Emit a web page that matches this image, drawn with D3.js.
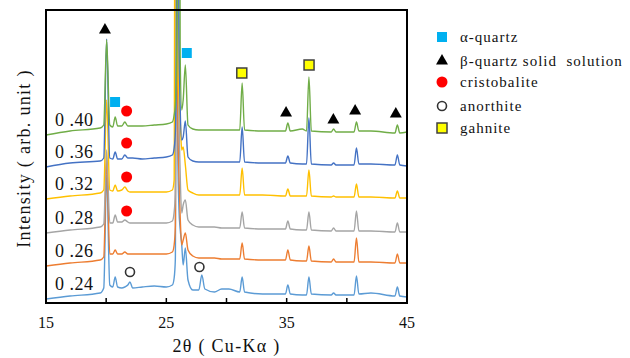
<!DOCTYPE html>
<html>
<head>
<meta charset="utf-8">
<script src="https://cdn.jsdelivr.net/npm/d3@7"></script>
<style>
  body { margin: 0; background: #fff; }
</style>
</head>
<body>
<div id="xrdChart"></div>
<script>
// 2-theta grid (degrees) shared by all patterns
const twoTheta = [15, 17, 19.5, 19.8, 20.04, 20.3, 20.55, 20.75, 20.95, 21.3, 21.55, 21.8, 21.98, 22.2,
  23, 24, 25, 25.5, 25.65, 25.75, 25.85, 25.95, 26.05, 26.15, 26.28, 26.4, 26.58, 26.8, 27.2, 27.7, 27.95, 28.2,
  29, 29.6, 30.2, 31.1, 31.3, 31.5, 33, 34.9, 35.1, 35.3, 36.3, 36.65, 36.85, 37.05, 38.7, 38.9, 39.1,
  40.6, 40.8, 41.0, 42, 44.0, 44.2, 44.4, 45];

// intensities (arb. unit), one array per composition
const int024 = [0, 3, 6, 11, 124, 14, 12, 22, 12, 11, 12, 14, 17, 11, 12, 13, 12, 14, 21, 40, 600, 150, 90, 70,
  54, 34, 51, 19, 9, 9, 24, 10, 7, 10, 10, 7, 22, 7, 5, 5, 14, 5, 4, 4, 22, 5, 4, 6, 4, 4, 23, 5, 6, 3, 12, 3, 2];
const int026 = [0, 3, 6, 9, 106, 12, 12, 16, 12, 12, 14, 12, 12, 12, 12, 12, 12, 14, 21, 40, 600, 150, 90, 50,
  21, 26, 33, 16, 10, 8, 8, 8, 8, 7, 7, 7, 23, 7, 6, 6, 16, 6, 5, 5, 20, 5, 4, 7, 4, 4, 28, 4, 4, 3, 12, 3, 3];
const int028 = [0, 3, 6, 9, 83, 10, 10, 18, 11, 11, 13, 11, 10, 10, 10, 10, 10, 12, 21, 40, 600, 350, 130, 60,
  20, 28, 33, 13, 8, 6, 6, 6, 6, 5, 5, 5, 21, 5, 4, 4, 12, 4, 3, 3, 21, 3, 2, 5, 2, 2, 22, 2, 2, 1, 10, 1, 1];
const int032 = [0, 3, 6, 9, 99, 9, 8, 14, 8, 9, 12, 8, 7, 7, 7, 7, 7, 9, 19, 600, 250, 140, 100, 80,
  49, 52, 34, 9, 6, 4, 4, 4, 4, 4, 4, 4, 31, 4, 4, 3, 10, 3, 3, 3, 29, 3, 2, 3, 2, 2, 15, 2, 2, 1, 8, 1, 1];
const int036 = [0, 4, 6, 9, 128, 9, 8, 15, 8, 8, 12, 9, 9, 9, 8, 9, 10, 12, 19, 35, 120, 600, 150, 60,
  27, 30, 46, 10, 6, 5, 5, 5, 5, 5, 5, 5, 40, 5, 4, 4, 11, 4, 3, 3, 49, 3, 2, 4, 2, 2, 19, 3, 3, 2, 12, 2, 1];
const int040 = [0, 4, 7, 10, 95, 10, 8, 18, 9, 9, 13, 9, 9, 9, 9, 10, 11, 13, 20, 30, 60, 200, 600, 80,
  25, 35, 70, 10, 6, 5, 5, 5, 5, 5, 5, 5, 52, 5, 4, 4, 12, 4, 6, 4, 58, 4, 3, 6, 3, 3, 13, 4, 4, 2, 10, 2, 3];

const labels = ["0 .24", "0 .26", "0 .28", "0 .32", "0 .36", "0 .40"];
const offsets = [4, 37, 70, 104, 136, 168];
const colors = ["#5B9BD5", "#ED7D31", "#A5A5A5", "#FFC000", "#4472C4", "#70AD47"];
const patterns = [int024, int026, int028, int032, int036, int040];

// phase markers: [2theta, stacked intensity]
const alphaQuartz = [[20.74, 201], [26.7, 250]];
const betaQuartz = [[19.9, 273], [34.95, 190], [38.88, 183], [40.69, 192], [44.07, 189]];
const cristobalite = [[21.7, 192], [21.7, 160], [21.7, 126], [21.7, 92]];
const anorthite = [[21.98, 31], [27.75, 36]];
const gahnite = [[31.27, 230], [36.86, 238]];

const xTicks = [15, 20, 25, 30, 35, 40, 45];
const xTickLabels = [15, 25, 35, 45];

const width = 630, height = 358;
const margin = { top: 10, right: 223, bottom: 55, left: 46 };
const serif = "Liberation Serif";

const svg = d3.select("#xrdChart")
  .append("svg")
  .attr("width", width)
  .attr("height", height);

const x = d3.scaleLinear().domain([15, 45]).range([margin.left, width - margin.right]);
const y = d3.scaleLinear().domain([0, 293]).range([height - margin.bottom, margin.top]);

// patterns, lowest first so the top ones sit above
patterns.forEach((vals, i) => {
  const line = d3.line()
    .x(d => x(d[0]))
    .y(d => y(d[1] + offsets[i]))
    .curve(d3.curveMonotoneX);
  svg.append("path")
    .datum(twoTheta.map((t, k) => [t, vals[k]]))
    .attr("d", line)
    .attr("fill", "none")
    .attr("stroke", colors[i])
    .attr("stroke-width", 1.4)
    .attr("stroke-linejoin", "round");

  svg.append("text")
    .attr("x", 55)
    .attr("y", y(offsets[i]) - 9)
    .attr("font-family", serif)
    .attr("font-size", 18)
    .attr("letter-spacing", 0.5)
    .attr("fill", "#111")
    .style("white-space", "pre")
    .text(labels[i]);
});

// frame
svg.append("rect")
  .attr("x", x(15)).attr("y", margin.top)
  .attr("width", x(45) - x(15)).attr("height", y(0) - margin.top)
  .attr("fill", "none").attr("stroke", "#000").attr("stroke-width", 2);

// inner ticks on the bottom axis
svg.selectAll(".tick")
  .data(xTicks.slice(1, -1))
  .enter().append("line")
  .attr("x1", d => x(d)).attr("x2", d => x(d))
  .attr("y1", y(0)).attr("y2", y(0) - 5)
  .attr("stroke", "#000").attr("stroke-width", 1.5);

svg.selectAll(".tickLabel")
  .data(xTickLabels)
  .enter().append("text")
  .attr("x", d => x(d))
  .attr("y", y(0) + 25)
  .attr("text-anchor", "middle")
  .attr("font-family", serif)
  .attr("font-size", 16)
  .attr("fill", "#111")
  .text(d => d);

// axis titles
svg.append("text")
  .attr("x", x(30)).attr("y", 352)
  .attr("text-anchor", "middle")
  .attr("font-family", serif)
  .attr("font-size", 18).attr("letter-spacing", 1.3)
  .attr("fill", "#111")
  .text("2θ ( Cu-Kα )");

svg.append("text")
  .attr("transform", `translate(30,${(y(0) + margin.top) / 2 + 2}) rotate(-90)`)
  .attr("text-anchor", "middle")
  .attr("font-family", serif)
  .attr("font-size", 18).attr("letter-spacing", 1.3)
  .attr("fill", "#111")
  .text("Intensity ( arb. unit )");

// marker drawing helpers
const tri = d3.symbol().type(d3.symbolTriangle).size(62)();
function drawMarker(g, kind) {
  if (kind === "alpha") {
    g.append("rect").attr("x", -5).attr("y", -5).attr("width", 10).attr("height", 10).attr("fill", "#00B0F0");
  } else if (kind === "beta") {
    g.append("path").attr("d", tri).attr("fill", "#000");
  } else if (kind === "cris") {
    g.append("circle").attr("r", 5.5).attr("fill", "#FF0000");
  } else if (kind === "anor") {
    g.append("circle").attr("r", 4.5).attr("fill", "#fff").attr("stroke", "#333").attr("stroke-width", 1.6);
  } else {
    g.append("rect").attr("x", -5).attr("y", -5).attr("width", 10).attr("height", 10)
      .attr("fill", "#FFFF00").attr("stroke", "#404040").attr("stroke-width", 1.5);
  }
}

const markerSets = [
  ["alpha", alphaQuartz], ["beta", betaQuartz], ["cris", cristobalite], ["anor", anorthite], ["gahn", gahnite]
];
markerSets.forEach(([kind, pts]) => {
  pts.forEach(p => {
    const g = svg.append("g").attr("transform", `translate(${x(p[0])},${y(p[1])})`);
    drawMarker(g, kind);
  });
});

// legend
const legendNames = ["α-quartz", "β-quartz solid  solution", "cristobalite", "anorthite", "gahnite"];
const legendY = [37, 61, 82, 106, 128];
markerSets.forEach(([kind], i) => {
  const g = svg.append("g").attr("transform", `translate(442,${legendY[i]})`);
  drawMarker(g, kind);
  g.append("text")
    .attr("x", 18).attr("y", 5)
    .attr("font-family", serif)
    .attr("font-size", 15).attr("letter-spacing", 1)
    .attr("fill", "#111")
    .style("white-space", "pre")
    .text(legendNames[i]);
});
</script>
</body>
</html>
